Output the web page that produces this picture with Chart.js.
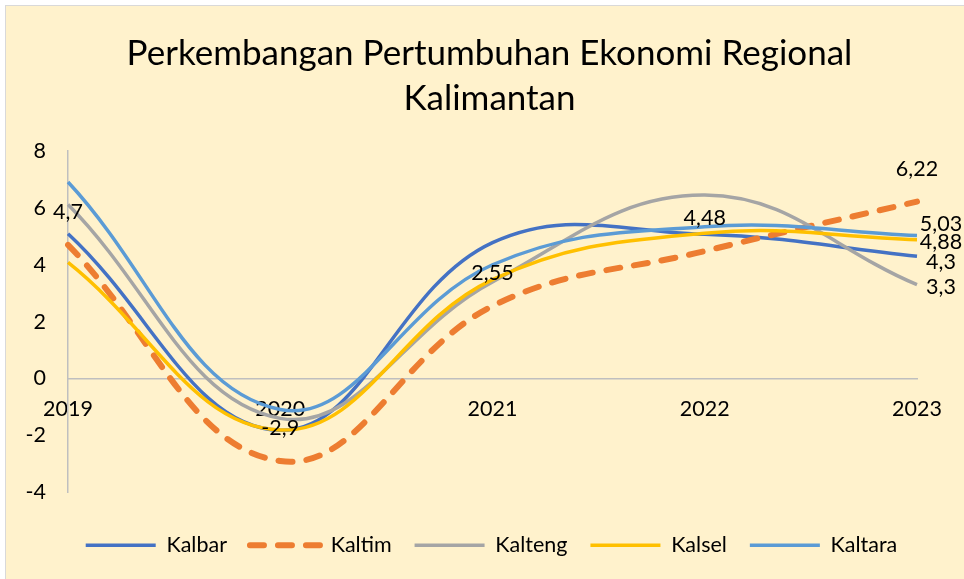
<!DOCTYPE html>
<html>
<head>
<meta charset="utf-8">
<script src="https://cdn.jsdelivr.net/npm/chart.js@4/dist/chart.umd.min.js"></script>
<style>
  html, body { margin: 0; padding: 0; background: #ffffff; }
  #wrap {
    position: absolute; left: 5px; top: 5px;
    border-left: 1px solid #d9d9d9; border-top: 1px solid #d9d9d9;
    background: #fff2cc;
  }
  canvas { display: block; }
</style>
</head>
<body>
<div id="wrap"><canvas id="chart" width="958" height="573"></canvas></div>
<script>
// Pertumbuhan ekonomi (%) per provinsi
const years = ["2019", "2020", "2021", "2022", "2023"];
const kalbar = [5.09, -1.82, 4.78, 5.07, 4.3];
const kaltim = [4.7, -2.9, 2.55, 4.48, 6.22];
const kalteng = [6.12, -1.4, 3.4, 6.45, 3.3];
const kalsel = [4.08, -1.81, 3.48, 5.11, 4.88];
const kaltara = [6.91, -1.09, 4.0, 5.34, 5.03];
const yTicks = [-4, -2, 0, 2, 4, 6, 8];

const FONT = "Lato";
const TXT = 21.5;

// draws the value labels (Kaltim on every point, others only at the end)
const valueLabels = {
  id: "valueLabels",
  afterDatasetsDraw(chart) {
    const ctx = chart.ctx;
    ctx.save();
    ctx.font = TXT + "px " + FONT;
    ctx.fillStyle = "#000";
    ctx.textAlign = "center";
    ctx.textBaseline = "middle";
    chart.data.datasets.forEach((ds, i) => {
      const meta = chart.getDatasetMeta(i);
      meta.data.forEach((pt, j) => {
        if (!ds.labelAll && j !== meta.data.length - 1) return;
        const txt = String(ds.data[j]).replace(".", ",");
        ctx.fillText(txt, pt.x + ds.labelDx, pt.y + ds.labelDy);
      });
    });
    ctx.restore();
  },
};

// title and legend sit a bit right of the canvas centre in the original
const shiftBlocks = {
  id: "shiftBlocks",
  afterLayout(chart) {
    if (chart.titleBlock) {
      chart.titleBlock.left += 56;
    }
    if (chart.legend) {
      chart.legend.left += 30;
      chart.legend.right += 30;
    }
  },
};

const ctx = document.getElementById("chart").getContext("2d");
new Chart(ctx, {
  type: "line",
  data: {
    labels: years,
    datasets: [
      { label: "Kalbar", data: kalbar, borderColor: "#4472c4", borderWidth: 3.5, order: 5, labelDx: 24, labelDy: 6 },
      {
        label: "Kaltim", data: kaltim, borderColor: "#ed7d31", borderWidth: 6,
        borderDash: [14, 14], borderCapStyle: "round", order: 4,
        labelAll: true, labelDx: 0, labelDy: -33,
      },
      { label: "Kalteng", data: kalteng, borderColor: "#a5a5a5", borderWidth: 3.5, order: 3, labelDx: 24, labelDy: 2 },
      { label: "Kalsel", data: kalsel, borderColor: "#ffc000", borderWidth: 3.5, order: 2, labelDx: 24, labelDy: 2 },
      { label: "Kaltara", data: kaltara, borderColor: "#5b9bd5", borderWidth: 3.5, order: 1, labelDx: 24, labelDy: -11 },
    ],
  },
  options: {
    responsive: false,
    animation: false,
    elements: {
      point: { radius: 0 },
      line: { tension: 0.4, fill: false },
    },
    layout: { padding: { top: 0, right: 47, bottom: 13, left: 0 } },
    plugins: {
      tooltip: { enabled: false },
      title: {
        display: true,
        text: ["Perkembangan Pertumbuhan Ekonomi Regional", "Kalimantan"],
        color: "#000",
        font: { family: FONT, size: 35, weight: "normal", lineHeight: 45 / 35 },
        padding: { top: 25, bottom: 30 },
      },
      legend: {
        position: "bottom",
        // empty title only used as spacing above the items
        title: { display: true, text: " ", font: { size: 1 }, padding: { top: 18, bottom: 0 } },
        labels: {
          usePointStyle: true,
          pointStyle: "line",
          pointStyleWidth: 70,
          color: "#000",
          padding: 23,
          font: { family: FONT, size: TXT },
          sort: (a, b) => a.datasetIndex - b.datasetIndex,
          generateLabels(chart) {
            const items = Chart.defaults.plugins.legend.labels.generateLabels(chart);
            items.forEach((it) => {
              const ds = chart.data.datasets[it.datasetIndex];
              it.lineDash = ds.borderDash || [];
              it.lineWidth = ds.borderWidth;
              it.lineCap = ds.borderCapStyle || "butt";
            });
            return items;
          },
        },
      },
    },
    scales: {
      x: {
        position: { y: 0 },
        grid: { display: false, drawTicks: false },
        border: { display: true, color: "#bfbfbf", width: 1.5 },
        ticks: { color: "#000", padding: 18, maxRotation: 0, font: { family: FONT, size: TXT } },
      },
      y: {
        min: -4,
        max: 8,
        afterFit: (s) => { s.width = 62; },
        afterBuildTicks: (s) => { s.ticks = yTicks.map((v) => ({ value: v })); },
        grid: { display: false, drawTicks: false },
        border: { display: true, color: "#bfbfbf", width: 1.5 },
        ticks: { color: "#000", padding: 22, font: { family: FONT, size: TXT } },
      },
    },
  },
  plugins: [valueLabels, shiftBlocks],
});
</script>
</body>
</html>
